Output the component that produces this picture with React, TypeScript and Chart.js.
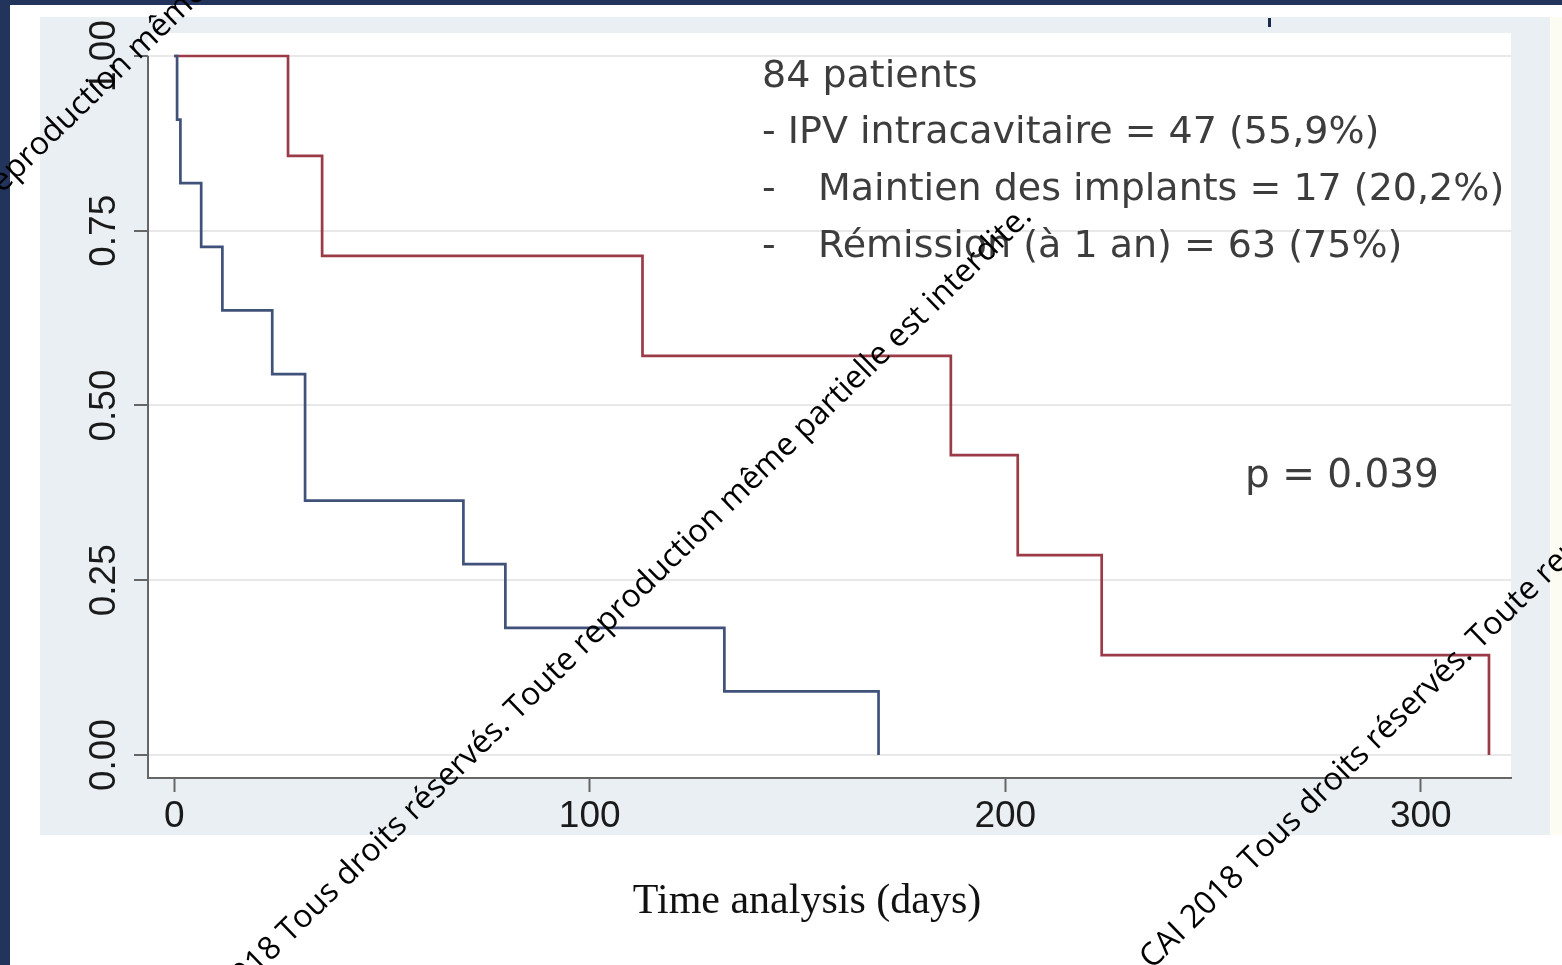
import React, { useEffect, useRef } from 'react';
import { Chart, registerables } from 'chart.js';

Chart.register(...registerables);

// ---- Data (Kaplan-Meier steps) ----
const redTimes = [0, 27.4, 35.6, 112.7, 186.9, 203.0, 223.2, 316.4];
const redSurvival = [1.0, 0.857, 0.714, 0.571, 0.429, 0.286, 0.143, 0.0];
const blueTimes = [0, 0.7, 1.5, 6.5, 11.6, 23.6, 31.5, 69.6, 79.7, 132.4, 169.5];
const blueSurvival = [1.0, 0.909, 0.818, 0.727, 0.636, 0.545, 0.364, 0.273, 0.182, 0.091, 0.0];
const xTickValues = [0, 100, 200, 300];
const yTickValues = [0, 0.25, 0.5, 0.75, 1.0];
const xAxisTitle = 'Time analysis (days)';
const annotationLines = [
  { dash: '', text: '84 patients' },
  { dash: '', text: '- IPV intracavitaire = 47 (55,9%)' },
  { dash: '-', text: 'Maintien des implants = 17 (20,2%)' },
  { dash: '-', text: 'Rémission (à 1 an) = 63 (75%)' },
];
const pValueText = 'p = 0.039';
const watermarkText = 'CAI 2018 Tous droits réservés. Toute reproduction même partielle est interdite.';

const RED = '#9a3b47';
const BLUE = '#40527a';

const toPoints = (xs: number[], ys: number[]) => xs.map((x, i) => ({ x, y: ys[i] }));

function drawWatermark(ctx: CanvasRenderingContext2D, anchorWord: string | null, ax: number, ay: number) {
  const ang = (-44.3 * Math.PI) / 180;
  ctx.save();
  ctx.font = '32px "Open Sans"';
  ctx.fillStyle = '#000';
  ctx.textBaseline = 'alphabetic';
  ctx.textAlign = 'left';
  let offset: number;
  if (anchorWord === null) {
    offset = -ctx.measureText(watermarkText).width;
  } else {
    const pre = watermarkText.slice(0, watermarkText.indexOf(anchorWord));
    offset = -ctx.measureText(pre).width;
  }
  ctx.translate(ax, ay);
  ctx.rotate(ang);
  ctx.fillText(watermarkText, offset, 0);
  ctx.restore();
}

const decorPlugin = {
  id: 'decor',
  beforeDraw(chart: any) {
    const { ctx, chartArea: ca, width, height } = chart;
    ctx.save();
    ctx.fillStyle = '#ffffff';
    ctx.fillRect(0, 0, width, height);
    ctx.fillStyle = '#fdfcf2';
    ctx.fillRect(1550, 17, width - 1550, 818);
    ctx.fillStyle = '#eaeff3';
    ctx.fillRect(40, 17, 1510, 818);
    ctx.fillStyle = '#ffffff';
    ctx.fillRect(ca.left, ca.top, ca.right - ca.left, ca.bottom - ca.top);
    ctx.fillStyle = '#22335c';
    ctx.fillRect(0, 0, width, 5);
    ctx.fillRect(0, 0, 10, height);
    ctx.fillStyle = '#1b2a4a';
    ctx.fillRect(1268, 18, 3, 9);
    ctx.restore();
  },
  afterDraw(chart: any) {
    const { ctx, chartArea: ca, scales } = chart;
    ctx.save();
    // y axis line (from 1.00 down to the x axis)
    ctx.strokeStyle = '#666';
    ctx.lineWidth = 2;
    ctx.beginPath();
    ctx.moveTo(ca.left, scales.y.getPixelForValue(1));
    ctx.lineTo(ca.left, ca.bottom + 1);
    ctx.stroke();

    // annotation text
    ctx.fillStyle = '#3d3d3d';
    ctx.font = '38px "DejaVu Sans"';
    ctx.textBaseline = 'alphabetic';
    ctx.textAlign = 'left';
    const baselines = [87, 143, 200, 257];
    annotationLines.forEach((l, i) => {
      if (l.dash) {
        ctx.fillText(l.dash, 762, baselines[i]);
        ctx.fillText(l.text, 818, baselines[i]);
      } else {
        ctx.fillText(l.text, 762, baselines[i]);
      }
    });
    ctx.font = '39px "DejaVu Sans"';
    ctx.fillText(pValueText, 1245, 487);

    // x axis title
    ctx.fillStyle = '#111';
    ctx.font = '42px "Liberation Serif"';
    ctx.textAlign = 'center';
    ctx.textBaseline = 'middle';
    ctx.fillText(xAxisTitle, 807, 902);
    ctx.restore();

    // watermarks
    drawWatermark(ctx, 'reproduction', -7, 203);
    drawWatermark(ctx, null, 1033, 218);
    drawWatermark(ctx, 'CAI', 1152, 970);
  },
};

export default function App() {
  const ref = useRef<HTMLCanvasElement>(null);
  useEffect(() => {
    const canvas = ref.current;
    if (!canvas) return;
    const tickFont = { family: '"Liberation Sans", Arial, sans-serif', size: 37 };
    const chart = new Chart(canvas, {
      type: 'line',
      data: {
        datasets: [
          {
            label: 'Groupe 1',
            data: toPoints(blueTimes, blueSurvival),
            borderColor: BLUE,
            borderWidth: 2.7,
            stepped: true,
            pointRadius: 0,
            fill: false,
          },
          {
            label: 'Groupe 2',
            data: toPoints(redTimes, redSurvival),
            borderColor: RED,
            borderWidth: 2.7,
            stepped: true,
            pointRadius: 0,
            fill: false,
          },
        ],
      },
      options: {
        responsive: false,
        animation: false,
        layout: { padding: { top: 33, right: 51, left: 0, bottom: 0 } },
        plugins: { legend: { display: false }, tooltip: { enabled: false } },
        scales: {
          x: {
            type: 'linear',
            min: -6.3,
            max: 321.7,
            afterBuildTicks: (s: any) => {
              s.ticks = xTickValues.map((v) => ({ value: v }));
            },
            afterFit: (s: any) => {
              s.height = 187;
            },
            grid: { drawOnChartArea: false, drawTicks: true, tickLength: 14, tickColor: '#666', tickWidth: 2 },
            border: { display: true, color: '#666', width: 2 },
            ticks: {
              font: tickFont,
              color: '#1a1a1a',
              padding: 3,
              maxRotation: 0,
              minRotation: 0,
              callback: (v: any) => String(v),
            },
          },
          y: {
            type: 'linear',
            min: -0.0329,
            max: 1.0329,
            afterBuildTicks: (s: any) => {
              s.ticks = yTickValues.map((v) => ({ value: v }));
            },
            afterFit: (s: any) => {
              s.width = 148;
            },
            grid: { color: '#e8e8e8', lineWidth: 2, drawTicks: true, tickLength: 14, tickColor: '#666', tickWidth: 2 },
            border: { display: false },
            ticks: {
              font: tickFont,
              color: '#1a1a1a',
              minRotation: 90,
              maxRotation: 90,
              crossAlign: 'center',
              padding: -7,
              callback: (v: any) => Number(v).toFixed(2),
            },
          },
        },
      },
      plugins: [decorPlugin],
    } as any);
    return () => chart.destroy();
  }, []);
  return (
    <div style={{ position: 'fixed', left: 0, top: 0, width: 1562, height: 965 }}>
      <canvas ref={ref} width={1562} height={965} style={{ display: 'block', width: 1562, height: 965 }} />
    </div>
  );
}
